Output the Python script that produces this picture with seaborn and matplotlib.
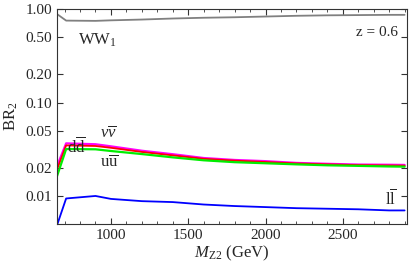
import numpy as np
import matplotlib
matplotlib.use("Agg")
import matplotlib.pyplot as plt
import seaborn as sns
from matplotlib.ticker import MultipleLocator, NullLocator

# masses (GeV) and branching ratios
mass = [650, 710, 900, 1000, 1200, 1400, 1600, 1800, 2000, 2200, 2400, 2600, 2800, 2900]
br_ww1 = [0.89, 0.755, 0.75, 0.76, 0.775, 0.795, 0.81, 0.82, 0.835, 0.85, 0.86, 0.865, 0.87, 0.87]
br_nunu = [0.0206, 0.0366, 0.0358, 0.0340, 0.0305, 0.0280, 0.0255, 0.0243, 0.0236, 0.0226,
           0.0221, 0.0217, 0.0216, 0.0215]
br_dd = [0.0190, 0.0348, 0.0343, 0.0328, 0.0296, 0.0272, 0.0250, 0.0239, 0.0231, 0.0223,
         0.0218, 0.0214, 0.0212, 0.0211]
br_uu = [0.0161, 0.0318, 0.0316, 0.0303, 0.0281, 0.0259, 0.0241, 0.0230, 0.0224, 0.0218,
         0.0213, 0.0210, 0.0207, 0.0206]
br_ll = [0.0048, 0.0094, 0.0100, 0.0093, 0.0088, 0.0086, 0.0081, 0.0078, 0.0076, 0.0074,
         0.0073, 0.0072, 0.0070, 0.0070]

y_ticks = [0.01, 0.02, 0.05, 0.10, 0.20, 0.50, 1.00]
y_ticklabels = ["0.01", "0.02", "0.05", "0.10", "0.20", "0.50", "1.00"]
x_ticks = [1000, 1500, 2000, 2500]

sns.set_style("ticks")
plt.rcParams["font.family"] = ["Liberation Serif", "DejaVu Serif"]
plt.rcParams["mathtext.fontset"] = "custom"
plt.rcParams["mathtext.rm"] = "Liberation Serif"
plt.rcParams["mathtext.it"] = "Liberation Serif:italic"

fig = plt.figure(figsize=(4.09, 2.63), dpi=100)
ax = fig.add_axes([0.139, 0.148, 0.856, 0.817])

sns.lineplot(x=mass, y=br_ww1, color="#808080", lw=1.3, ax=ax)
sns.lineplot(x=mass, y=br_nunu, color="#ff00ff", lw=1.6, ax=ax)
sns.lineplot(x=mass, y=br_dd, color="#ff0000", lw=1.3, ax=ax)
sns.lineplot(x=mass, y=br_uu, color="#00ee00", lw=1.6, ax=ax)
sns.lineplot(x=mass, y=br_ll, color="#0000ff", lw=1.3, ax=ax)

ax.set_yscale("log")
ax.set_ylim(0.005, 1.0)
ax.set_xlim(650, 2915)
ax.set_yticks(y_ticks)
ax.set_yticklabels(y_ticklabels)
ax.yaxis.set_minor_locator(NullLocator())
ax.set_xticks(x_ticks)
ax.xaxis.set_minor_locator(MultipleLocator(100))
ax.tick_params(which="both", direction="in", top=True, right=True, labelsize=11,
               color="#333333")
ax.tick_params(which="major", length=4)
ax.tick_params(which="minor", length=2)
for s in ax.spines.values():
    s.set_color("#333333")
    s.set_linewidth(0.8)

ax.set_xlabel(r"$M_{\mathrm{Z2}}$ (GeV)", fontsize=12, labelpad=1)
ax.set_ylabel(r"BR$_2$", fontsize=12, labelpad=4)

ax.text(786, 0.47, r"WW$_1$", fontsize=12, ha="left", va="center")
ax.text(0.974, 0.89, "z = 0.6", transform=ax.transAxes, fontsize=11, ha="right", va="center")
ax.text(778, 0.0334, r"$\mathrm{d}\overline{\mathrm{d}}$", fontsize=12, ha="center", va="center")
ax.text(985, 0.046, r"$\nu\overline{\nu}$", fontsize=12, ha="center", va="center")
ax.text(990, 0.0225, r"$\mathrm{u}\overline{\mathrm{u}}$", fontsize=12, ha="center", va="center")
ax.text(2812, 0.0092, r"$\mathrm{l}\overline{\mathrm{l}}$", fontsize=12, ha="center", va="center")

fig.savefig("out.png", dpi=100)
